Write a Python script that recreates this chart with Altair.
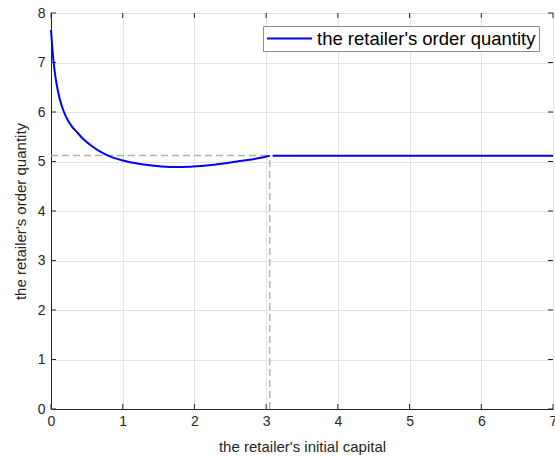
import altair as alt
import pandas as pd

# curve: retailer's order quantity vs initial capital
cap_curve = [0.0, 0.02, 0.037, 0.06, 0.097, 0.153, 0.21, 0.29, 0.37, 0.446, 0.544, 0.75, 1.0,
             1.24, 1.47, 1.70, 1.94, 2.17, 2.40, 2.63, 2.87, 3.05]
qty_curve = [7.66, 7.26, 7.0, 6.73, 6.42, 6.11, 5.90, 5.71, 5.58, 5.46, 5.34, 5.15, 5.02,
             4.95, 4.91, 4.89, 4.895, 4.92, 4.96, 5.01, 5.06, 5.115]
cap_flat = [3.09, 7.0]
qty_flat = [5.115, 5.115]

threshold_cap = 3.05
threshold_qty = 5.12

x_ticks = [0, 1, 2, 3, 4, 5, 6, 7]
y_ticks = [0, 1, 2, 3, 4, 5, 6, 7, 8]

series_name = "the retailer's order quantity"

rows = []
for x, y in zip(cap_curve, qty_curve):
    rows.append({"cap": x, "qty": y, "seg": "a", "series": series_name})
for x, y in zip(cap_flat, qty_flat):
    rows.append({"cap": x, "qty": y, "seg": "b", "series": series_name})
df = pd.DataFrame(rows)

dash_h = pd.DataFrame({"x": [0.0], "x2": [threshold_cap], "y": [threshold_qty]})
dash_v = pd.DataFrame({"x": [threshold_cap], "y": [0.0], "y2": [threshold_qty]})
xt = pd.DataFrame({"v": x_ticks})
yt = pd.DataFrame({"v": y_ticks})

FONT = "Liberation Sans"
TXT = "#262626"
W, H = 502, 396
TL = 5

xscale = alt.Scale(domain=[0, 7], nice=False, zero=False)
yscale = alt.Scale(domain=[0, 8], nice=False, zero=False)

xaxis = alt.Axis(values=x_ticks, format="d", title="the retailer's initial capital",
                 grid=True, gridColor="#e3e3e3", domainColor=TXT, tickColor=TXT,
                 tickSize=0, labelFontSize=14, labelColor=TXT, labelPadding=5,
                 labelFlush=False,
                 titleFontSize=15, titleColor=TXT, titleFontWeight="normal",
                 titlePadding=11, labelFont=FONT, titleFont=FONT)
yaxis = alt.Axis(values=y_ticks, format="d", title="the retailer's order quantity",
                 grid=True, gridColor="#e3e3e3", domainColor=TXT, tickColor=TXT,
                 tickSize=0, labelFontSize=14, labelColor=TXT, labelPadding=6,
                 labelFlush=False,
                 titleFontSize=15, titleColor=TXT, titleFontWeight="normal",
                 titlePadding=9, labelFont=FONT, titleFont=FONT)

hline = alt.Chart(dash_h).mark_rule(color="#b0b0b0", strokeDash=[7, 4], strokeWidth=1.4).encode(
    x=alt.X("x:Q", scale=xscale, axis=xaxis), x2="x2:Q", y=alt.Y("y:Q", scale=yscale, axis=yaxis))
vline = alt.Chart(dash_v).mark_rule(color="#b0b0b0", strokeDash=[7, 4], strokeWidth=1.4).encode(
    x=alt.X("x:Q", scale=xscale), y=alt.Y("y:Q", scale=yscale), y2="y2:Q")

# inward ticks on all four sides (MATLAB box style)
tick_bottom = alt.Chart(xt).mark_rule(color=TXT, strokeWidth=1).encode(
    x=alt.X("v:Q", scale=xscale), y=alt.value(H), y2=alt.value(H - TL))
tick_top = alt.Chart(xt).mark_rule(color=TXT, strokeWidth=1).encode(
    x=alt.X("v:Q", scale=xscale), y=alt.value(0), y2=alt.value(TL))
tick_left = alt.Chart(yt).mark_rule(color=TXT, strokeWidth=1).encode(
    y=alt.Y("v:Q", scale=yscale), x=alt.value(0), x2=alt.value(TL))
tick_right = alt.Chart(yt).mark_rule(color=TXT, strokeWidth=1).encode(
    y=alt.Y("v:Q", scale=yscale), x=alt.value(W), x2=alt.value(W - TL))

line = alt.Chart(df).mark_line(strokeWidth=2, interpolate="monotone").encode(
    x=alt.X("cap:Q", scale=xscale),
    y=alt.Y("qty:Q", scale=yscale),
    detail="seg:N",
    color=alt.Color("series:N", scale=alt.Scale(range=["#0000ff"]),
                    legend=alt.Legend(title=None, orient="none", legendX=212, legendY=13,
                                      symbolType="stroke", symbolSize=2025,
                                      symbolStrokeWidth=2, labelFontSize=18.5,
                                      labelFont=FONT, labelColor="#000000",
                                      labelLimit=0, clipHeight=19,
                                      strokeColor="#8c8c8c", fillColor="white",
                                      padding=3, labelOffset=4)),
)

chart = alt.layer(hline, vline, tick_bottom, tick_top, tick_left, tick_right, line).properties(
    width=W, height=H,
    autosize=alt.AutoSizeParams(type="none"),
    padding={"left": 51, "top": 13, "right": 2, "bottom": 49},
    background="white",
).configure_view(stroke=TXT, strokeWidth=1)

chart.save("out.html", embed_options={"renderer": "svg", "actions": False})
